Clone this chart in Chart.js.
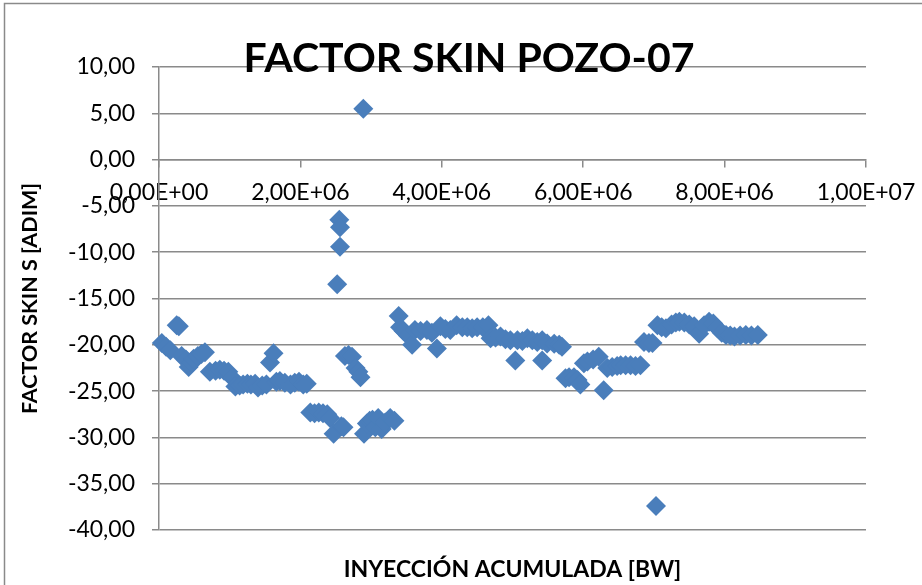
<!DOCTYPE html>
<html>
<head>
<meta charset="utf-8">
<script src="https://cdn.jsdelivr.net/npm/chart.js@4/dist/chart.umd.min.js"></script>
<style>
  html, body { margin: 0; padding: 0; background: #ffffff; }
  #wrap { width: 922px; height: 585px; }
</style>
</head>
<body>
<div id="wrap"><canvas id="c" width="922" height="585"></canvas></div>
<script>
// ---- Data ----
const chartTitle = 'FACTOR SKIN POZO-07';
const xAxisTitle = 'INYECCIÓN ACUMULADA [BW]';
const yAxisTitle = 'FACTOR SKIN S [ADIM]';

// cumulative injection, millions of BW
const injectionMBW = [
  0.04, 0.10, 0.16, 0.25, 0.28, 0.32, 0.38, 0.42, 0.46, 0.49, 0.55, 0.60, 0.65,
  0.72, 0.80, 0.86, 0.92, 0.98, 1.04, 1.08, 1.14, 1.19, 1.25, 1.30, 1.36, 1.40,
  1.46, 1.52, 1.57, 1.62, 1.66, 1.71, 1.78, 1.86, 1.92, 1.98, 2.04, 2.09,
  2.14, 2.20, 2.26, 2.32, 2.38, 2.42, 2.47, 2.52, 2.55, 2.56, 2.56, 2.58, 2.61,
  2.63, 2.68, 2.73, 2.78, 2.82, 2.85, 2.89, 2.90, 2.94, 2.98, 3.02, 3.06, 3.10,
  3.15, 3.20, 3.27, 3.33,
  3.39, 3.41, 3.46, 3.52, 3.58, 3.62, 3.70, 3.79, 3.86, 3.93, 3.98, 4.05, 4.12,
  4.21, 4.29, 4.36, 4.43, 4.50, 4.58, 4.66, 4.69, 4.76, 4.83, 4.90, 4.97, 5.04,
  5.07, 5.14, 5.21, 5.28, 5.35, 5.42, 5.42, 5.49, 5.59, 5.66, 5.70,
  5.75, 5.80, 5.87, 5.92, 5.96, 6.01, 6.06, 6.14, 6.22, 6.29, 6.34, 6.41, 6.48,
  6.53, 6.60, 6.67, 6.74, 6.81, 6.86, 6.93, 6.98, 7.03,
  7.05, 7.11, 7.17, 7.25, 7.31, 7.36, 7.43, 7.50, 7.57, 7.64, 7.71, 7.78, 7.84,
  7.90, 7.96, 8.02, 8.08, 8.14, 8.22, 8.30, 8.38, 8.47
];

// skin factor S
const skinFactor = [
  -19.8, -20.2, -20.6, -17.9, -18.0, -21.2, -21.6, -22.4, -22.0, -21.5, -21.2, -21.0, -20.8,
  -22.9, -22.8, -22.7, -22.8, -22.9, -23.6, -24.5, -24.4, -24.3, -24.2, -24.3, -24.2, -24.6,
  -24.4, -24.3, -21.9, -20.9, -24.0, -23.9, -24.1, -24.3, -24.1, -24.0, -24.3, -24.2,
  -27.3, -27.4, -27.3, -27.4, -27.5, -27.9, -29.6, -13.45, -6.5, -7.3, -9.4, -28.8, -28.9,
  -21.2, -21.1, -21.3, -22.5, -22.9, -23.5, 5.5, -29.6, -28.5, -28.2, -28.1, -28.9, -27.9,
  -29.1, -28.4, -27.9, -28.2,
  -16.9, -18.1, -18.5, -19.0, -20.0, -18.4, -18.5, -18.4, -18.7, -20.4, -18.0, -18.3, -18.4,
  -17.9, -18.1, -18.1, -18.2, -18.1, -18.1, -17.9, -19.3, -19.2, -19.1, -19.4, -19.5, -21.7,
  -19.5, -19.6, -19.3, -19.5, -19.7, -21.7, -19.5, -19.85, -19.9, -20.0, -20.2,
  -23.6, -23.5, -23.5, -23.8, -24.3, -22.0, -21.8, -21.6, -21.3, -24.9, -22.5, -22.4, -22.3,
  -22.2, -22.2, -22.2, -22.3, -22.2, -19.7, -19.8, -19.8, -37.4,
  -17.9, -18.1, -18.2, -17.8, -17.6, -17.5, -17.6, -17.8, -18.0, -18.8, -17.9, -17.5, -17.7,
  -18.2, -18.7, -18.95, -19.0, -19.1, -19.0, -18.95, -19.0, -18.95
];

const xTickStep = 2e6;
const yTicksMin = -40, yTicksMax = 10, yTickStep = 5;
const xMin = 0, xMax = 1e7;

// ---- Helpers ----
function fmtExp(v) {
  if (v === 0) return '0,00E+00';
  const e = Math.floor(Math.log10(Math.abs(v)) + 1e-9);
  const m = v / Math.pow(10, e);
  return m.toFixed(2).replace('.', ',') + 'E' + (e < 0 ? '-' : '+') + String(Math.abs(e)).padStart(2, '0');
}
function fmtDec(v) { return v.toFixed(2).replace('.', ','); }

const points = injectionMBW.map((x, i) => ({ x: x * 1e6, y: skinFactor[i] }));

const GRID = '#8a8a8a';
const FONT = 'Lato';

const decorPlugin = {
  id: 'decor',
  afterDraw(chart) {
    const ctx = chart.ctx;
    ctx.save();
    // outer frame
    ctx.strokeStyle = '#8a8a8a';
    ctx.lineWidth = 1.5;
    ctx.strokeRect(4.5, 3.5, 1200, 1200);
    // title
    ctx.fillStyle = '#000000';
    ctx.textAlign = 'center';
    ctx.textBaseline = 'alphabetic';
    ctx.font = 'bold 41px ' + FONT;
    ctx.fillText(chartTitle, 469, 72);
    // x-axis title
    const ca = chart.chartArea;
    ctx.font = 'bold 23px ' + FONT;
    ctx.fillText(xAxisTitle, (ca.left + ca.right) / 2, 577);
    ctx.restore();
  }
};

new Chart(document.getElementById('c'), {
  type: 'scatter',
  data: {
    datasets: [{
      data: points,
      pointStyle: 'rectRot',
      pointRadius: 10,
      pointBackgroundColor: '#4a7ebb',
      pointBorderColor: '#4a7ebb',
      pointBorderWidth: 0,
      showLine: false
    }]
  },
  options: {
    responsive: false,
    animation: false,
    events: [],
    clip: false,
    layout: { padding: { left: 0, right: 56, top: 67, bottom: 55 } },
    plugins: {
      legend: { display: false },
      tooltip: { enabled: false },
      title: { display: false }
    },
    scales: {
      x: {
        type: 'linear',
        position: { y: 0 },
        min: xMin, max: xMax,
        afterFit(scale) { scale.paddingLeft = 0; scale.paddingRight = 0; },
        ticks: {
          stepSize: xTickStep,
          autoSkip: false,
          maxRotation: 0,
          padding: 12,
          color: '#000000',
          font: { family: FONT, size: 23 },
          callback: (v) => fmtExp(v)
        },
        grid: { drawOnChartArea: false, drawTicks: true, tickLength: 7, color: GRID, lineWidth: 1.5 },
        border: { display: true, color: GRID, width: 1.5 }
      },
      y: {
        type: 'linear',
        position: 'left',
        min: yTicksMin, max: yTicksMax,
        afterFit(scale) { scale.width = 159; },
        ticks: {
          stepSize: yTickStep,
          padding: 17,
          color: '#000000',
          font: { family: FONT, size: 23 },
          callback: (v) => fmtDec(v)
        },
        title: {
          display: true,
          text: yAxisTitle,
          color: '#000000',
          font: { family: FONT, size: 21.5, weight: 'bold' },
          padding: { top: 17, bottom: 0 }
        },
        grid: { drawOnChartArea: true, drawTicks: true, tickLength: 7, color: GRID, lineWidth: 1.5 },
        border: { display: true, color: GRID, width: 1.5 }
      }
    }
  },
  plugins: [decorPlugin]
});
</script>
</body>
</html>
